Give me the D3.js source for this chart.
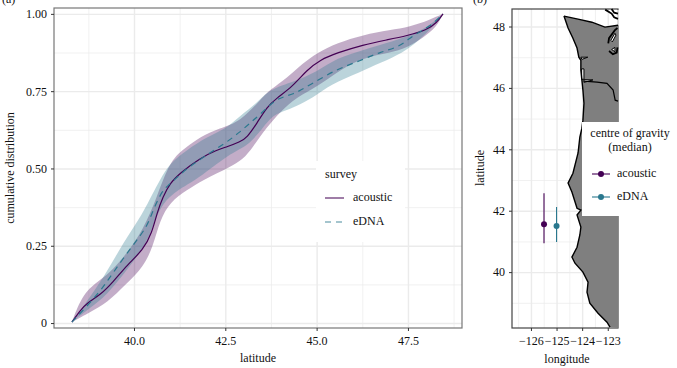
<!DOCTYPE html>
<html>
<head>
<meta charset="utf-8">
<script src="https://cdn.jsdelivr.net/npm/d3@7"></script>
<style>
  body { margin: 0; background: #fff; }
  svg { display: block; }
  text { fill: #111; font-size: 12px; font-family: "Liberation Serif", serif; }
  .axis text { font-size: 12px; fill: #111; font-family: "Liberation Serif", serif; }
  .axis path { display: none; }
  .axis line { stroke: #333; }
  .grid path { display: none; }
  .grid text { display: none; }
  .grid line { stroke: #ebebeb; }
</style>
</head>
<body>
<svg width="677" height="368"></svg>
<script>
// panel (a) values: [latitude, cumulative distribution]
const acousticMean = [[38.30,.003],[38.52,.04],[38.71,.065],[39.07,.09],[39.43,.133],[39.81,.188],[40.25,.236],[40.49,.291],[40.63,.356],[40.79,.408],[40.99,.453],[41.26,.485],[41.81,.534],[42.27,.56],[42.55,.57],[42.90,.586],[43.09,.599],[43.37,.647],[43.64,.699],[43.91,.728],[44.33,.764],[44.74,.819],[45.09,.851],[45.56,.874],[46.27,.90],[46.93,.916],[47.47,.929],[48.02,.948],[48.29,.971],[48.46,1]];
const acousticUpper = [[38.30,.003],[38.60,.097],[39.07,.139],[39.42,.172],[39.81,.227],[40.25,.301],[40.63,.408],[40.99,.528],[41.45,.57],[41.81,.602],[42.35,.631],[42.90,.65],[43.53,.731],[43.72,.754],[44.19,.793],[44.63,.841],[45.01,.874],[45.56,.906],[46.27,.932],[47.01,.948],[47.55,.958],[48.10,.981],[48.46,1]];
const acousticLower = [[38.30,.003],[38.80,.036],[39.26,.065],[39.81,.129],[40.25,.181],[40.52,.246],[40.71,.333],[40.99,.392],[41.45,.43],[41.89,.463],[42.63,.505],[42.98,.528],[43.26,.57],[43.64,.634],[44.00,.683],[44.46,.731],[45.01,.764],[45.64,.819],[46.27,.858],[47.01,.874],[47.47,.89],[47.91,.922],[48.29,.958],[48.46,1]];
const ednaMean = [[38.30,.003],[39.07,.10],[39.42,.162],[39.97,.252],[40.36,.311],[40.52,.366],[40.79,.431],[40.90,.44],[41.45,.502],[42.00,.544],[42.55,.586],[42.90,.618],[43.18,.647],[43.53,.683],[43.91,.728],[44.35,.738],[44.81,.77],[45.56,.822],[46.19,.848],[46.74,.877],[47.28,.893],[47.64,.932],[48.10,.958],[48.46,1]];
const ednaUpper = [[38.30,.003],[38.80,.084],[39.26,.165],[39.70,.259],[40.25,.356],[40.52,.421],[40.71,.463],[40.99,.518],[41.45,.56],[42.00,.602],[42.55,.631],[42.90,.67],[43.37,.712],[43.64,.748],[44.08,.77],[44.35,.78],[45.01,.812],[45.56,.858],[46.27,.883],[46.93,.906],[47.47,.926],[48.02,.955],[48.46,1]];
const ednaLower = [[38.30,.003],[38.80,.049],[39.26,.091],[39.81,.172],[40.36,.259],[40.57,.333],[40.79,.388],[41.18,.43],[41.72,.463],[42.63,.55],[43.09,.57],[43.53,.631],[43.80,.673],[44.19,.689],[44.54,.706],[45.01,.738],[45.36,.77],[46.19,.812],[46.74,.841],[47.36,.874],[47.75,.909],[48.10,.948],[48.46,1]];

const latTicks = [40, 42.5, 45, 47.5];
const latMinor = [38.75, 41.25, 43.75, 46.25, 48.75];
const cumTicks = [0, 0.25, 0.5, 0.75, 1];
const cumMinor = [0.125, 0.375, 0.625, 0.875];

// panel (b) values: [longitude, latitude]
const coast = [[-124.71,48.34],[-124.55,47.95],[-124.36,47.62],[-124.20,47.30],[-124.13,47.00],[-124.05,46.90],[-124.05,46.58],[-124.01,46.25],[-123.97,45.93],[-123.93,45.50],[-123.97,44.95],[-124.01,44.69],[-124.09,44.40],[-124.16,43.88],[-124.36,43.22],[-124.55,42.90],[-124.40,42.61],[-124.20,42.08],[-124.05,42.02],[-124.20,41.86],[-124.05,41.47],[-124.09,41.21],[-124.20,40.81],[-124.40,40.49],[-124.28,40.29],[-123.97,40.00],[-123.77,39.67],[-123.81,39.35],[-123.70,38.99],[-123.38,38.66],[-123.03,38.37],[-122.91,38.21]];
const northShore = [[-124.71,48.34],[-124.16,48.24],[-123.62,48.14],[-123.11,47.98],[-122.60,48.04]];
const columbiaRiver = [[-123.93,46.22],[-123.42,46.19],[-123.03,46.15],[-122.79,45.93],[-122.71,45.60],[-122.60,45.57]];
const vancouverBits = [
  [[-123.10,48.55],[-122.85,48.42],[-122.75,48.30],[-122.60,48.25]],
  [[-122.85,48.57],[-122.75,48.45],[-122.60,48.42]]
];
const pugetLines = [
  [[-122.98,47.45],[-122.95,47.62],[-122.72,47.88],[-122.62,47.95]],
  [[-122.95,47.20],[-122.80,47.10],[-122.65,47.15],[-122.62,47.32]]
];
const inlets = [
  [[-124.05,47.00],[-123.78,47.00],[-124.01,46.93]],
  [[-124.02,46.62],[-123.93,46.62],[-123.93,46.28],[-124.02,46.28]],
  [[-123.93,46.27],[-123.58,46.26],[-123.93,46.18]],
  [[-122.88,47.55],[-122.72,47.78],[-122.68,47.72],[-122.82,47.50]],
  [[-122.85,47.25],[-122.72,47.32],[-122.72,47.18]]
];
const landLimit = [-122.60, 38.18];

const surveys = ["acoustic", "eDNA"];
const gravityLon = [-125.49, -125.0];
const gravityLat = [41.56, 41.50];
const gravityLow = [40.94, 40.98];
const gravityHigh = [42.57, 42.12];
const lonTicks = [-126, -125, -124, -123];
const lonMinor = [-126.5, -125.5, -124.5, -123.5];
const mapLatTicks = [40, 42, 44, 46, 48];
const mapLatMinor = [39, 41, 43, 45, 47];

const purple = "#440154";
const teal = "#2a788e";
const minus = (v) => String(v).replace("-", "\u2212");

const svg = d3.select("svg");

// ---------- panel a ----------
const aBox = { left: 54, right: 462, top: 8, bottom: 328 };
const xA = d3.scaleLinear().domain([37.81, 48.98]).range([aBox.left, aBox.right]);
const yA = d3.scaleLinear().domain([-0.016, 1.019]).range([aBox.bottom, aBox.top]);

const panelA = svg.append("g");

function drawGrid(g, box, x, y, xMajor, xMinor, yMajor, yMinor) {
  g.append("g").attr("class", "grid")
    .attr("transform", `translate(0, ${box.bottom})`)
    .call(d3.axisBottom(x).tickValues(xMinor).tickSize(box.top - box.bottom))
    .selectAll("line").attr("stroke-width", 0.7);
  g.append("g").attr("class", "grid")
    .attr("transform", `translate(${box.left}, 0)`)
    .call(d3.axisLeft(y).tickValues(yMinor).tickSize(box.left - box.right))
    .selectAll("line").attr("stroke-width", 0.7);
  g.append("g").attr("class", "grid")
    .attr("transform", `translate(0, ${box.bottom})`)
    .call(d3.axisBottom(x).tickValues(xMajor).tickSize(box.top - box.bottom))
    .selectAll("line").attr("stroke-width", 1.4);
  g.append("g").attr("class", "grid")
    .attr("transform", `translate(${box.left}, 0)`)
    .call(d3.axisLeft(y).tickValues(yMajor).tickSize(box.left - box.right))
    .selectAll("line").attr("stroke-width", 1.4);
}

function drawBorder(g, box, color) {
  g.append("rect")
    .attr("x", box.left).attr("y", box.top)
    .attr("width", box.right - box.left).attr("height", box.bottom - box.top)
    .attr("fill", "none").attr("stroke", color).attr("stroke-width", 1.2);
}

drawGrid(panelA, aBox, xA, yA, latTicks, latMinor, cumTicks, cumMinor);

const lineA = d3.line().x(d => xA(d[0])).y(d => yA(d[1])).curve(d3.curveBasis);

function band(upper, lower) {
  // upper edge left to right, then lower edge back again
  return lineA(upper) + "L" + lineA(lower.slice().reverse()).slice(1) + "Z";
}

panelA.append("path").attr("d", band(acousticUpper, acousticLower))
  .attr("fill", purple).attr("fill-opacity", 0.32);
panelA.append("path").attr("d", band(ednaUpper, ednaLower))
  .attr("fill", teal).attr("fill-opacity", 0.32);
panelA.append("path").attr("d", lineA(acousticMean))
  .attr("fill", "none").attr("stroke", purple).attr("stroke-width", 1.2);
panelA.append("path").attr("d", lineA(ednaMean))
  .attr("fill", "none").attr("stroke", teal).attr("stroke-width", 1.2)
  .attr("stroke-dasharray", "6,5");

drawBorder(panelA, aBox, "#777");

panelA.append("g").attr("class", "axis")
  .attr("transform", `translate(0, ${aBox.bottom})`)
  .call(d3.axisBottom(xA).tickValues(latTicks).tickSize(3).tickPadding(5).tickFormat(d3.format(".1f")));
panelA.append("g").attr("class", "axis")
  .attr("transform", `translate(${aBox.left}, 0)`)
  .call(d3.axisLeft(yA).tickValues(cumTicks).tickSize(3).tickPadding(4)
    .tickFormat(d => d === 0 ? "0" : d3.format(".2f")(d)));

panelA.append("text").attr("x", 258).attr("y", 362).attr("text-anchor", "middle").text("latitude");
panelA.append("text").attr("transform", "translate(14, 168) rotate(-90)")
  .attr("text-anchor", "middle").text("cumulative distribution");
panelA.append("text").attr("x", 2).attr("y", 3).text("(a)");

// legend a
panelA.append("rect").attr("x", 316).attr("y", 161).attr("width", 89).attr("height", 81).attr("fill", "#fff");
panelA.append("text").attr("x", 325).attr("y", 178).text("survey");
const legendA = panelA.selectAll(".key").data(surveys).enter().append("g")
  .attr("transform", (d, i) => `translate(325, ${198 + i * 24})`);
legendA.append("line").attr("x1", 0).attr("x2", 19)
  .attr("stroke", (d, i) => i ? teal : purple).attr("stroke-width", 1.2)
  .attr("stroke-opacity", 0.85)
  .attr("stroke-dasharray", (d, i) => i ? "6,5" : null);
legendA.append("text").attr("x", 28).attr("y", 3).text(d => d);

// ---------- panel b ----------
const bBox = { left: 512, right: 618, top: 9, bottom: 328 };
const xB = d3.scaleLinear().domain([-126.74, -122.60]).range([bBox.left, bBox.right]);
const yB = d3.scaleLinear().domain([38.18, 48.57]).range([bBox.bottom, bBox.top]);

const panelB = svg.append("g");
drawGrid(panelB, bBox, xB, yB, lonTicks, lonMinor, mapLatTicks, mapLatMinor);
drawBorder(panelB, bBox, "#444");

const lineB = d3.line().x(d => xB(d[0])).y(d => yB(d[1]));

// land is the coast closed along the panel edge, then the north shore
const land = coast.concat([landLimit, [landLimit[0], northShore[4][1]]], northShore.slice().reverse());
panelB.append("path").attr("d", lineB(land) + "Z").attr("fill", "#7f7f7f");
// white out the right edge line above the shore
panelB.append("line")
  .attr("x1", bBox.right).attr("x2", bBox.right)
  .attr("y1", bBox.top + 1).attr("y2", yB(northShore[4][1]))
  .attr("stroke", "#fff").attr("stroke-width", 1.4);
panelB.selectAll(".inlet").data(inlets).enter().append("path")
  .attr("d", d => lineB(d) + "Z")
  .attr("fill", "#fff").attr("stroke", "#000").attr("stroke-width", 1);
[...vancouverBits, ...pugetLines].forEach(bit => {
  panelB.append("path").attr("d", lineB(bit)).attr("fill", "none")
    .attr("stroke", "#000").attr("stroke-width", 1.8);
});
panelB.append("path").attr("d", lineB(coast)).attr("fill", "none").attr("stroke", "#000").attr("stroke-width", 1.4);
panelB.append("path").attr("d", lineB(northShore)).attr("fill", "none").attr("stroke", "#000").attr("stroke-width", 1.4);
panelB.append("path").attr("d", lineB(columbiaRiver)).attr("fill", "none").attr("stroke", "#000").attr("stroke-width", 1.2);

// legend b sits on top of the land
panelB.append("rect").attr("x", 582).attr("y", 122).attr("width", 95).attr("height", 94).attr("fill", "#fff");

// error bars and points
surveys.forEach((s, i) => {
  const color = i ? teal : purple;
  panelB.append("line")
    .attr("x1", xB(gravityLon[i])).attr("x2", xB(gravityLon[i]))
    .attr("y1", yB(gravityLow[i])).attr("y2", yB(gravityHigh[i]))
    .attr("stroke", color).attr("stroke-width", 1.1);
  panelB.append("circle")
    .attr("cx", xB(gravityLon[i])).attr("cy", yB(gravityLat[i])).attr("r", 3)
    .attr("fill", color);
});

panelB.append("g").attr("class", "axis")
  .attr("transform", `translate(0, ${bBox.bottom})`)
  .call(d3.axisBottom(xB).tickValues(lonTicks).tickSize(3).tickPadding(5).tickFormat(minus));
panelB.append("g").attr("class", "axis")
  .attr("transform", `translate(${bBox.left}, 0)`)
  .call(d3.axisLeft(yB).tickValues(mapLatTicks).tickSize(3).tickPadding(4));

panelB.append("text").attr("x", 567).attr("y", 363).attr("text-anchor", "middle").text("longitude");
panelB.append("text").attr("transform", "translate(484, 168) rotate(-90)")
  .attr("text-anchor", "middle").text("latitude");
panelB.append("text").attr("x", 473).attr("y", 3).text("(b)");

panelB.append("text").attr("x", 630).attr("y", 137).attr("text-anchor", "middle").text("centre of gravity");
panelB.append("text").attr("x", 630).attr("y", 151).attr("text-anchor", "middle").text("(median)");
const legendB = panelB.selectAll(".keyb").data(surveys).enter().append("g")
  .attr("transform", (d, i) => `translate(592, ${174 + i * 23})`);
legendB.append("line").attr("x1", 0).attr("x2", 18)
  .attr("stroke", (d, i) => i ? teal : purple).attr("stroke-width", 1.1);
legendB.append("circle").attr("cx", 9).attr("r", 3).attr("fill", (d, i) => i ? teal : purple);
legendB.append("text").attr("x", 25).attr("y", 3).text(d => d);
</script>
</body>
</html>
